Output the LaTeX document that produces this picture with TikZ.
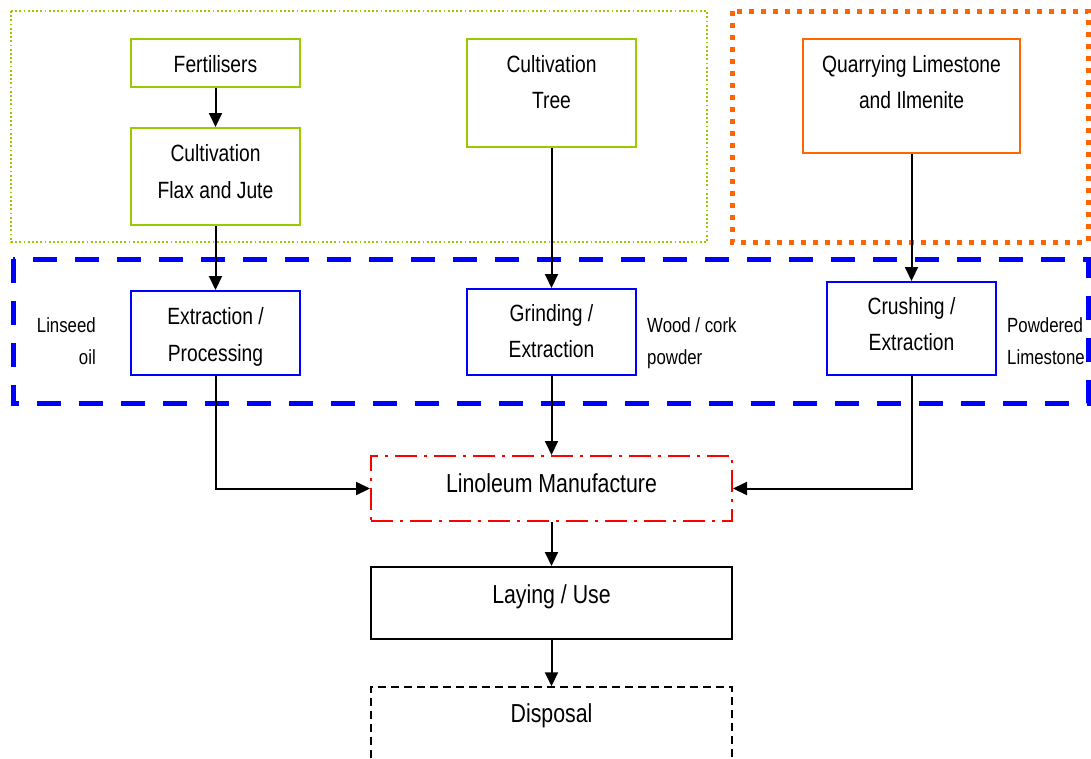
\documentclass[tikz,border=0pt]{standalone}
\usepackage{fontspec}
\setmainfont{Liberation Sans}[FakeStretch=0.82]
\usetikzlibrary{arrows.meta}
\definecolor{leafgreen}{HTML}{99CC00}
\definecolor{quarryorange}{HTML}{FF6600}
\tikzset{
  box/.style={draw, line width=2pt, minimum width=169pt, inner sep=0pt},
  greenbox/.style={box, draw=leafgreen},
  bluebox/.style={box, draw=blue},
  orangebox/.style={box, draw=quarryorange},
  boxtext/.style={align=center, inner sep=0pt, font=\fontsize{23.5}{36.5}\selectfont},
  sidetext/.style={inner sep=0pt, font=\fontsize{20.5}{32}\selectfont},
  maintext/.style={inner sep=0pt, font=\fontsize{26}{30}\selectfont},
  flow/.style={-{Triangle[length=14pt,width=13pt]}, line width=2pt},
}
\begin{document}
\begin{tikzpicture}[x=1pt, y=-1pt]
  \clip (0,0) rectangle (1091,758);
  % Cadres de regroupement
  \draw[leafgreen, line width=1.8pt, dash pattern=on 1.8pt off 2.4pt] (11,11) rectangle (707,242);
  \draw[quarryorange, line width=5pt, dash pattern=on 5pt off 7pt] (732,11) rectangle (1088,242);
  \draw[blue, line width=5pt, dash pattern=on 24pt off 18pt] (13,259) rectangle (1088,403);
  % Culture (vert)
  \node[greenbox, minimum height=48pt] (fert) at (215.5,63) {};
  \node[boxtext] (fert text) at (215.5,64) {Fertilisers};
  \node[greenbox, minimum height=97pt] (flax) at (215.5,176.5) {};
  \node[boxtext] (flax text) at (215.5,171.5) {Cultivation\\Flax and Jute};
  \node[greenbox, minimum height=108pt] (tree) at (551.5,93) {};
  \node[boxtext] (tree text) at (551.5,82) {Cultivation\\Tree};
  % Carriere (orange)
  \node[orangebox, minimum width=217pt, minimum height=114pt] (quarry) at (911.5,96) {};
  \node[boxtext] (quarry text) at (911.5,82) {Quarrying Limestone\\and Ilmenite};
  % Transformation (bleu)
  \node[bluebox, minimum height=84pt] (extr) at (215.5,333) {};
  \node[boxtext] (extr text) at (215.5,337) {Extraction /\\Processing};
  \node[bluebox, minimum height=86pt] (grind) at (551.5,332) {};
  \node[boxtext] (grind text) at (551.5,331) {Grinding /\\Extraction};
  \node[bluebox, minimum height=93pt] (crush) at (911.5,328.5) {};
  \node[boxtext] (crush text) at (911.5,324) {Crushing /\\Extraction};
  % Produits intermediaires
  \node[sidetext, align=right, anchor=east] (linseed) at (96,341) {Linseed\\oil};
  \node[sidetext, align=left, anchor=west] (wood) at (647,343) {Wood / cork\\powder};
  \node[sidetext, align=left, anchor=west] (powdered) at (1007,341) {Powdered\\Limestone};
  % Fabrication, pose, fin de vie
  \node[box, draw=red, dash pattern=on 22pt off 7pt on 3pt off 7pt, minimum width=361pt, minimum height=65pt] (lino) at (551.5,488.5) {};
  \node[maintext] (lino text) at (551.5,483) {Linoleum Manufacture};
  \node[box, minimum width=361pt, minimum height=72pt] (lay) at (551.5,603) {};
  \node[maintext] (lay text) at (551.5,597) {Laying / Use};
  \node[box, line width=1.5pt, dashed, dash pattern=on 8pt off 5pt, minimum width=361pt, minimum height=73pt] (disp) at (551.5,723.5) {};
  \node[maintext] (disp text) at (551.5,716) {Disposal};
  % Fleches
  \draw[flow] (fert.south) -- (flax.north);
  \draw[flow] (flax.south) -- (extr.north);
  \draw[flow] (tree.south) -- (grind.north);
  \draw[flow] (quarry.south) -- (crush.north);
  \draw[flow] (extr.south) |- (lino.west);
  \draw[flow] (grind.south) -- (lino.north);
  \draw[flow] (crush.south) |- (lino.east);
  \draw[flow] (lino.south) -- (lay.north);
  \draw[flow] (lay.south) -- (disp.north);
\end{tikzpicture}
\end{document}
